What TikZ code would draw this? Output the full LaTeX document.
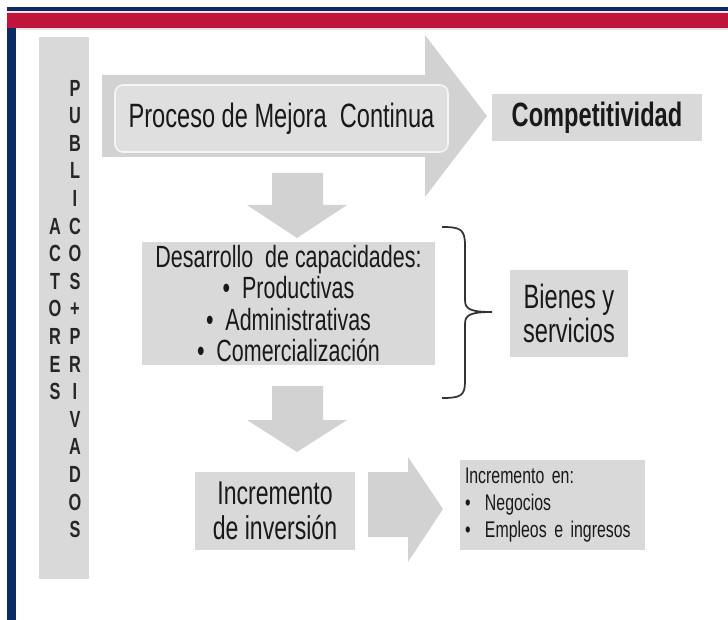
\documentclass[tikz,border=0pt]{standalone}
\usepackage{fontspec}
\setmainfont[FakeStretch=0.7]{Liberation Sans}
\usetikzlibrary{positioning}
\definecolor{navy}{HTML}{0B2A66}
\definecolor{slidered}{HTML}{C0143C}
\definecolor{boxgray}{HTML}{D9D9D9}
\definecolor{arrowgray}{HTML}{D2D2D2}
\definecolor{bracegray}{HTML}{333333}

\begin{document}
\begin{tikzpicture}[x=0.75pt,y=-0.75pt,
	box/.style={fill=boxgray, inner sep=0pt, align=center, text=black!90},
	blockarrow/.style={fill=arrowgray},
	letters/.style={align=center, text=black!85, font=\bfseries\fontsize{17.5}{20.7}\selectfont}]
	\useasboundingbox (0,0) rectangle (728,620);
	% slide frame
	\fill[navy] (7,7) rectangle (728,11);
	\fill[pink!50] (7,11) rectangle (728,13);
	\fill[slidered] (7,13) rectangle (728,28);
	\fill[pink!50] (7,28) rectangle (728,30);
	\fill[navy] (7,28) rectangle (16,620);

	% block arrows
	\fill[blockarrow] (102,75) -- (425,75) -- (425,35) -- (487,116) -- (425,197) -- (425,157) -- (102,157) -- cycle;
	\fill[blockarrow] (272,173) -- (323,173) -- (323,205) -- (347,205) -- (297,238) -- (247,205) -- (272,205) -- cycle;
	\fill[blockarrow] (272,386) -- (323,386) -- (323,420) -- (347,420) -- (297,452) -- (247,420) -- (272,420) -- cycle;
	\fill[blockarrow] (368,472) -- (408,472) -- (408,457) -- (443,509) -- (408,562) -- (408,537) -- (368,537) -- cycle;

	\draw (64,308) node[box, minimum width=37.5pt, minimum height=406.5pt] (actores) {}
		(55,309) node[letters] (actlbl) {A\\C\\T\\O\\R\\E\\S}
		(75,309) node[letters] (publbl) {P\\U\\B\\L\\I\\C\\O\\S\\+\\P\\R\\I\\V\\A\\D\\O\\S};

	\draw (281.5,118.5) node[box, fill=boxgray!85, draw=white!92!gray, line width=1.2pt, rounded corners=6pt,
			minimum width=249.75pt, minimum height=50.25pt, font=\fontsize{25.3}{27}\selectfont] (proceso) {Proceso de Mejora\ \ Continua}
		(597,117.5) node[box, minimum width=157.5pt, minimum height=35.25pt, font=\bfseries\fontsize{25.3}{27}\selectfont] (compet) {Competitividad}
		(288.5,303.5) node[box, minimum width=219.75pt, minimum height=92.25pt, font=\fontsize{23}{23.5}\selectfont] (desarrollo)
			{Desarrollo\ \ de capacidades:\\ \textbullet\ \ Productivas\\ \textbullet\ \ Administrativas\\ \textbullet\ \ Comercialización}
		(569,313.5) node[box, minimum width=88.5pt, minimum height=65.25pt, font=\fontsize{25.3}{25}\selectfont] (bienes) {Bienes y\\servicios}
		(275,511) node[box, minimum width=120pt, minimum height=58.5pt, font=\fontsize{24.7}{26}\selectfont] (inversion) {Incremento\\de inversión}
		(552.5,505) node[box, minimum width=138.75pt, minimum height=67.5pt, inner xsep=3.75pt, text width=131.25pt, align=left,
			font=\fontsize{17}{20}\selectfont] (incremento)
			{Incremento en:\\ \makebox[15pt][l]{\textbullet}Negocios\\ \makebox[15pt][l]{\textbullet}Empleos e ingresos};

	% brace
	\draw[bracegray, line width=1.3pt] (442,227) .. controls (460,227) and (465,229) .. (465,245) -- (465,300)
		.. controls (465,309) and (470,312) .. (492,312) .. controls (470,312) and (465,315) .. (465,324) -- (465,382)
		.. controls (465,396) and (460,398) .. (442,398);
\end{tikzpicture}
\end{document}
